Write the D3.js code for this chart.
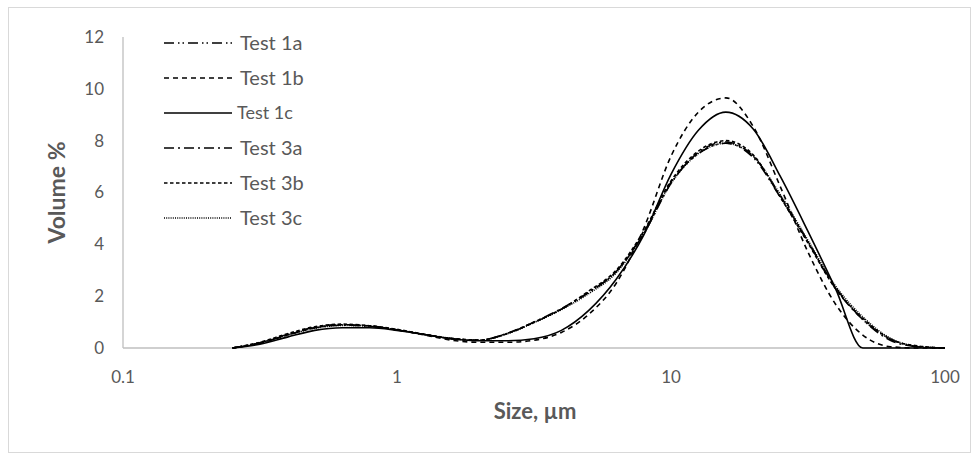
<!DOCTYPE html>
<html>
<head>
<meta charset="utf-8">
<script src="https://cdn.jsdelivr.net/npm/d3@7"></script>
<style>
  body { margin: 0; background: #fff; }
  svg { display: block; font-family: Lato, "Open Sans", sans-serif; }
</style>
</head>
<body>
<svg id="chart" width="978" height="457"></svg>
<script>
// particle sizes, µm (10 bins per decade)
const sizes = [0.251, 0.316, 0.398, 0.501, 0.631, 0.794, 1.0, 1.259, 1.585, 1.995,
  2.512, 3.162, 3.981, 5.012, 6.31, 7.943, 10, 12.59, 15.85, 19.95,
  25.12, 31.62, 39.81, 50.12, 63.1, 79.43, 100];

// volume % per series
const test1a = [0, 0.2, 0.52, 0.8, 0.9, 0.85, 0.7, 0.52, 0.36, 0.3,
  0.55, 0.98, 1.5, 2.15, 2.95, 4.45, 6.4, 7.5, 7.9, 7.35,
  5.8, 4.1, 2.35, 1.1, 0.35, 0.05, 0];
const test1b = [0, 0.18, 0.5, 0.78, 0.9, 0.85, 0.7, 0.5, 0.3, 0.22,
  0.22, 0.3, 0.6, 1.3, 2.5, 4.6, 7.4, 9.1, 9.65, 8.55,
  6.2, 3.7, 1.7, 0.5, 0.05, 0, 0];
const test1c = [0, 0.15, 0.42, 0.68, 0.78, 0.78, 0.68, 0.52, 0.36, 0.28,
  0.28, 0.36, 0.68, 1.45, 2.65, 4.35, 6.7, 8.4, 9.1, 8.45,
  6.6, 4.5, 2.3, 0, 0, 0, 0];
const test3a = [0, 0.2, 0.5, 0.78, 0.88, 0.84, 0.7, 0.52, 0.36, 0.3,
  0.56, 1.0, 1.52, 2.15, 2.95, 4.4, 6.35, 7.55, 7.95, 7.4,
  5.85, 4.1, 2.3, 1.1, 0.3, 0.05, 0];
const test3b = [0, 0.22, 0.55, 0.82, 0.92, 0.86, 0.72, 0.53, 0.37, 0.31,
  0.55, 1.0, 1.5, 2.2, 3.0, 4.5, 6.45, 7.6, 8.0, 7.45,
  5.8, 4.05, 2.3, 1.15, 0.35, 0.08, 0];
const test3c = [0, 0.2, 0.5, 0.76, 0.87, 0.84, 0.7, 0.52, 0.36, 0.3,
  0.54, 0.98, 1.48, 2.1, 2.9, 4.4, 6.35, 7.5, 7.9, 7.4,
  5.9, 4.15, 2.4, 1.2, 0.38, 0.06, 0];

const seriesNames = ['Test 1a', 'Test 1b', 'Test 1c', 'Test 3a', 'Test 3b', 'Test 3c'];
const seriesValues = [test1a, test1b, test1c, test3a, test3b, test3c];
const dashes = ['10,4,1.5,3,1.5,4', '5,4', null, '10,4,2,4', '3.5,2.5', '1,1.2'];

const xTicks = [0.1, 1, 10, 100];
const yTicks = [0, 2, 4, 6, 8, 10, 12];

const svg = d3.select('#chart');
const grey = '#595959';

// chart area border
svg.append('rect')
  .attr('x', 8.5).attr('y', 7.5)
  .attr('width', 962).attr('height', 445)
  .attr('fill', 'none')
  .attr('stroke', '#d9d9d9');

const x = d3.scaleLog().domain([0.1, 100]).range([123, 945]);
const y = d3.scaleLinear().domain([0, 12]).range([348, 37]);

// axes lines
svg.append('line')
  .attr('x1', x(0.1)).attr('x2', x(0.1))
  .attr('y1', y(12)).attr('y2', y(0))
  .attr('stroke', '#bfbfbf').attr('stroke-width', 1.3);
svg.append('line')
  .attr('x1', x(0.1)).attr('x2', x(100))
  .attr('y1', y(0)).attr('y2', y(0))
  .attr('stroke', '#bfbfbf').attr('stroke-width', 1.3);

// tick labels
svg.selectAll('.ytick').data(yTicks)
  .join('text')
  .attr('class', 'ytick')
  .attr('x', 104)
  .attr('y', d => y(d))
  .attr('dy', '0.35em')
  .attr('text-anchor', 'end')
  .attr('font-size', 17)
  .attr('fill', grey)
  .text(d => d);

svg.selectAll('.xtick').data(xTicks)
  .join('text')
  .attr('class', 'xtick')
  .attr('x', d => x(d))
  .attr('y', 377)
  .attr('dy', '0.35em')
  .attr('text-anchor', 'middle')
  .attr('font-size', 17)
  .attr('fill', grey)
  .text(d => d);

// axis titles
svg.append('text')
  .attr('x', 535).attr('y', 419)
  .attr('text-anchor', 'middle')
  .attr('font-size', 22).attr('font-weight', 'bold')
  .attr('fill', grey)
  .text('Size, µm');

svg.append('text')
  .attr('transform', `translate(65,${(y(0) + y(12)) / 2}) rotate(-90)`)
  .attr('text-anchor', 'middle')
  .attr('font-size', 23).attr('font-weight', 'bold')
  .attr('fill', grey)
  .text('Volume %');

// curves
const line = d3.line()
  .x(d => x(d[0]))
  .y(d => y(d[1]))
  .curve(d3.curveMonotoneX);

const series = seriesNames.map((name, i) => ({
  name,
  dash: dashes[i],
  points: sizes.map((s, j) => [s, seriesValues[i][j]])
}));

svg.append('g')
  .selectAll('path').data(series)
  .join('path')
  .attr('d', d => line(d.points))
  .attr('fill', 'none')
  .attr('stroke', '#000')
  .attr('stroke-width', 1.6)
  .attr('stroke-dasharray', d => d.dash);

// legend
const legend = svg.append('g');
const rows = legend.selectAll('g').data(series)
  .join('g')
  .attr('transform', (d, i) => `translate(164,${43 + i * 35})`);

rows.append('line')
  .attr('x1', 0).attr('x2', 68)
  .attr('y1', 0).attr('y2', 0)
  .attr('stroke', '#000')
  .attr('stroke-width', 1.6)
  .attr('stroke-dasharray', d => d.dash);

rows.append('text')
  .attr('x', d => d.name === 'Test 1c' ? 73 : 76)
  .attr('y', 0)
  .attr('dy', '0.35em')
  .attr('font-size', d => d.name === 'Test 1c' ? 18 : 20)
  .attr('fill', grey)
  .text(d => d.name);
</script>
</body>
</html>
